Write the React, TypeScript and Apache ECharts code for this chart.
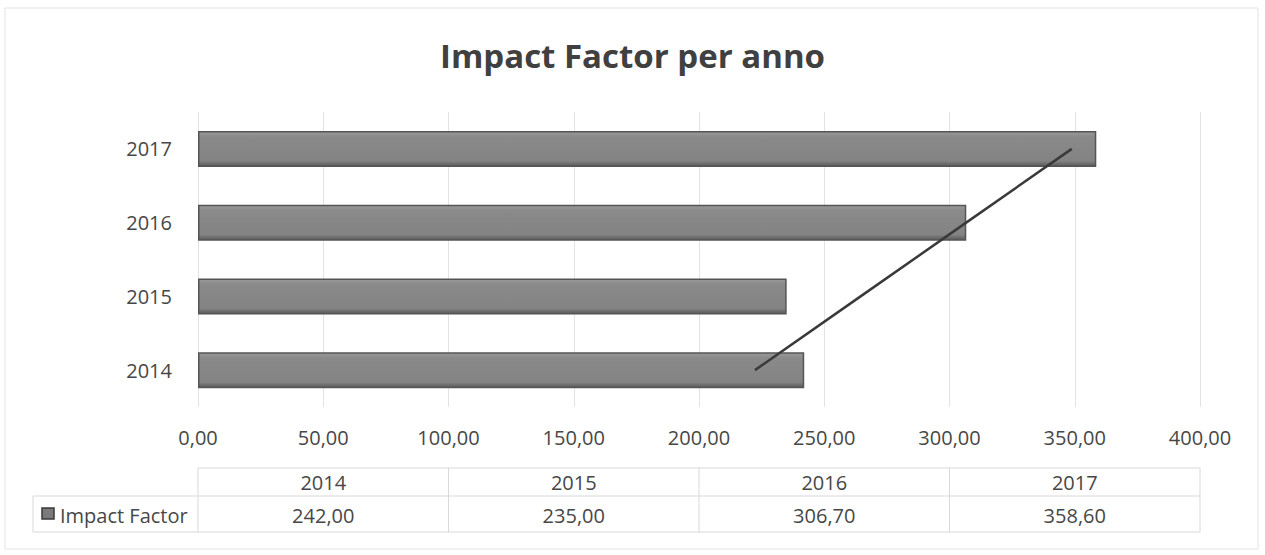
import React, { useEffect, useRef } from "react";
import * as echarts from "echarts";

const title = "Impact Factor per anno";
const seriesName = "Impact Factor";
const years = ["2014", "2015", "2016", "2017"];
const impactFactor = [242.0, 235.0, 306.7, 358.6];
const axisMin = 0;
const axisMax = 400;
const axisStep = 50;

const fmt = (v: number) => v.toFixed(2).replace(".", ",");

// linear trend line (least squares over category index)
function linearTrend(vals: number[]): number[] {
  const n = vals.length;
  const xs = vals.map((_, i) => i + 1);
  const mx = xs.reduce((a, b) => a + b, 0) / n;
  const my = vals.reduce((a, b) => a + b, 0) / n;
  let num = 0;
  let den = 0;
  for (let i = 0; i < n; i++) {
    num += (xs[i] - mx) * (vals[i] - my);
    den += (xs[i] - mx) * (xs[i] - mx);
  }
  const slope = num / den;
  return xs.map((x) => my + slope * (x - mx));
}

const FONT = "Open Sans";
const W = 1265;
const H = 555;
const gridLeft = 198;
const gridRight = 65;
const gridTop = 112;
const gridBottom = 148;

export default function App() {
  const ref = useRef<HTMLDivElement>(null);
  useEffect(() => {
    if (!ref.current) return;
    const chart = echarts.init(ref.current, undefined, { renderer: "svg" });
    const trend = linearTrend(impactFactor);

    const plotW = W - gridLeft - gridRight;
    const colW = plotW / years.length;
    const t0 = 468;
    const t1 = 496;
    const t2 = 532;
    const lineColor = "#d9d9d9";
    const textColor = "#474747";
    const fs = 20;

    const graphics: any[] = [
      {
        type: "rect",
        shape: { x: 5, y: 8, width: W - 12, height: H - 14 },
        style: { fill: "none", stroke: "#e3e3e3", lineWidth: 1 },
        silent: true,
      },
      {
        type: "line",
        shape: { x1: gridLeft, y1: t0, x2: W - gridRight, y2: t0 },
        style: { stroke: lineColor, lineWidth: 1 },
      },
      {
        type: "line",
        shape: { x1: 33, y1: t1, x2: W - gridRight, y2: t1 },
        style: { stroke: lineColor, lineWidth: 1 },
      },
      {
        type: "line",
        shape: { x1: 33, y1: t2, x2: W - gridRight, y2: t2 },
        style: { stroke: lineColor, lineWidth: 1 },
      },
      {
        type: "line",
        shape: { x1: 33, y1: t1, x2: 33, y2: t2 },
        style: { stroke: lineColor, lineWidth: 1 },
      },
      {
        type: "rect",
        shape: { x: 42, y: 508, width: 12, height: 11 },
        style: { fill: "#7a7a7a", stroke: "#3a3a3a", lineWidth: 1.5 },
      },
      {
        type: "text",
        x: 60,
        y: 515,
        style: {
          text: seriesName,
          fill: textColor,
          font: `${fs}px "${FONT}"`,
          textVerticalAlign: "middle",
          textAlign: "left",
        },
      },
    ];
    for (let i = 0; i <= years.length; i++) {
      const x = gridLeft + colW * i;
      graphics.push({
        type: "line",
        shape: { x1: x, y1: t0, x2: x, y2: t2 },
        style: { stroke: lineColor, lineWidth: 1 },
      });
    }
    years.forEach((y, i) => {
      const cx = gridLeft + colW * (i + 0.5);
      graphics.push({
        type: "text",
        x: cx,
        y: 482,
        style: {
          text: y,
          fill: textColor,
          font: `${fs}px "${FONT}"`,
          textAlign: "center",
          textVerticalAlign: "middle",
        },
      });
      graphics.push({
        type: "text",
        x: cx,
        y: 515,
        style: {
          text: fmt(impactFactor[i]),
          fill: textColor,
          font: `${fs}px "${FONT}"`,
          textAlign: "center",
          textVerticalAlign: "middle",
        },
      });
    });

    chart.setOption({
      animation: false,
      backgroundColor: "#ffffff",
      title: {
        text: title,
        left: "center",
        top: 34,
        textStyle: {
          fontFamily: FONT,
          fontSize: 33,
          fontWeight: "bold",
          color: "#404040",
        },
      },
      grid: { left: gridLeft, right: gridRight, top: gridTop, bottom: gridBottom },
      xAxis: {
        type: "value",
        min: axisMin,
        max: axisMax,
        interval: axisStep,
        axisLine: { show: false },
        axisTick: { show: false },
        axisLabel: {
          formatter: (v: number) => fmt(v),
          color: textColor,
          fontFamily: FONT,
          fontSize: fs,
          margin: 20,
        },
        splitLine: { show: true, lineStyle: { color: "#e3e3e3", width: 1 } },
      },
      yAxis: {
        type: "category",
        data: years,
        axisLine: { show: false },
        axisTick: { show: false },
        axisLabel: {
          color: textColor,
          fontFamily: FONT,
          fontSize: fs,
          margin: 26,
        },
      },
      series: [
        {
          name: seriesName,
          type: "bar",
          data: impactFactor,
          barWidth: 36,
          itemStyle: {
            color: new echarts.graphic.LinearGradient(0, 0, 0, 1, [
              { offset: 0, color: "#9a9a9a" },
              { offset: 0.15, color: "#8a8a8a" },
              { offset: 0.85, color: "#838383" },
              { offset: 1, color: "#5a5a5a" },
            ]),
            borderColor: "#555555",
            borderWidth: 1.5,
          },
          z: 2,
        },
        {
          name: "trend",
          type: "line",
          data: trend,
          symbol: "none",
          lineStyle: { color: "#3a3a3a", width: 2.5 },
          z: 3,
        },
      ],
      graphic: graphics,
    });
    return () => chart.dispose();
  }, []);
  return <div ref={ref} style={{ width: W, height: H, position: "absolute", left: 0, top: 0 }} />;
}
